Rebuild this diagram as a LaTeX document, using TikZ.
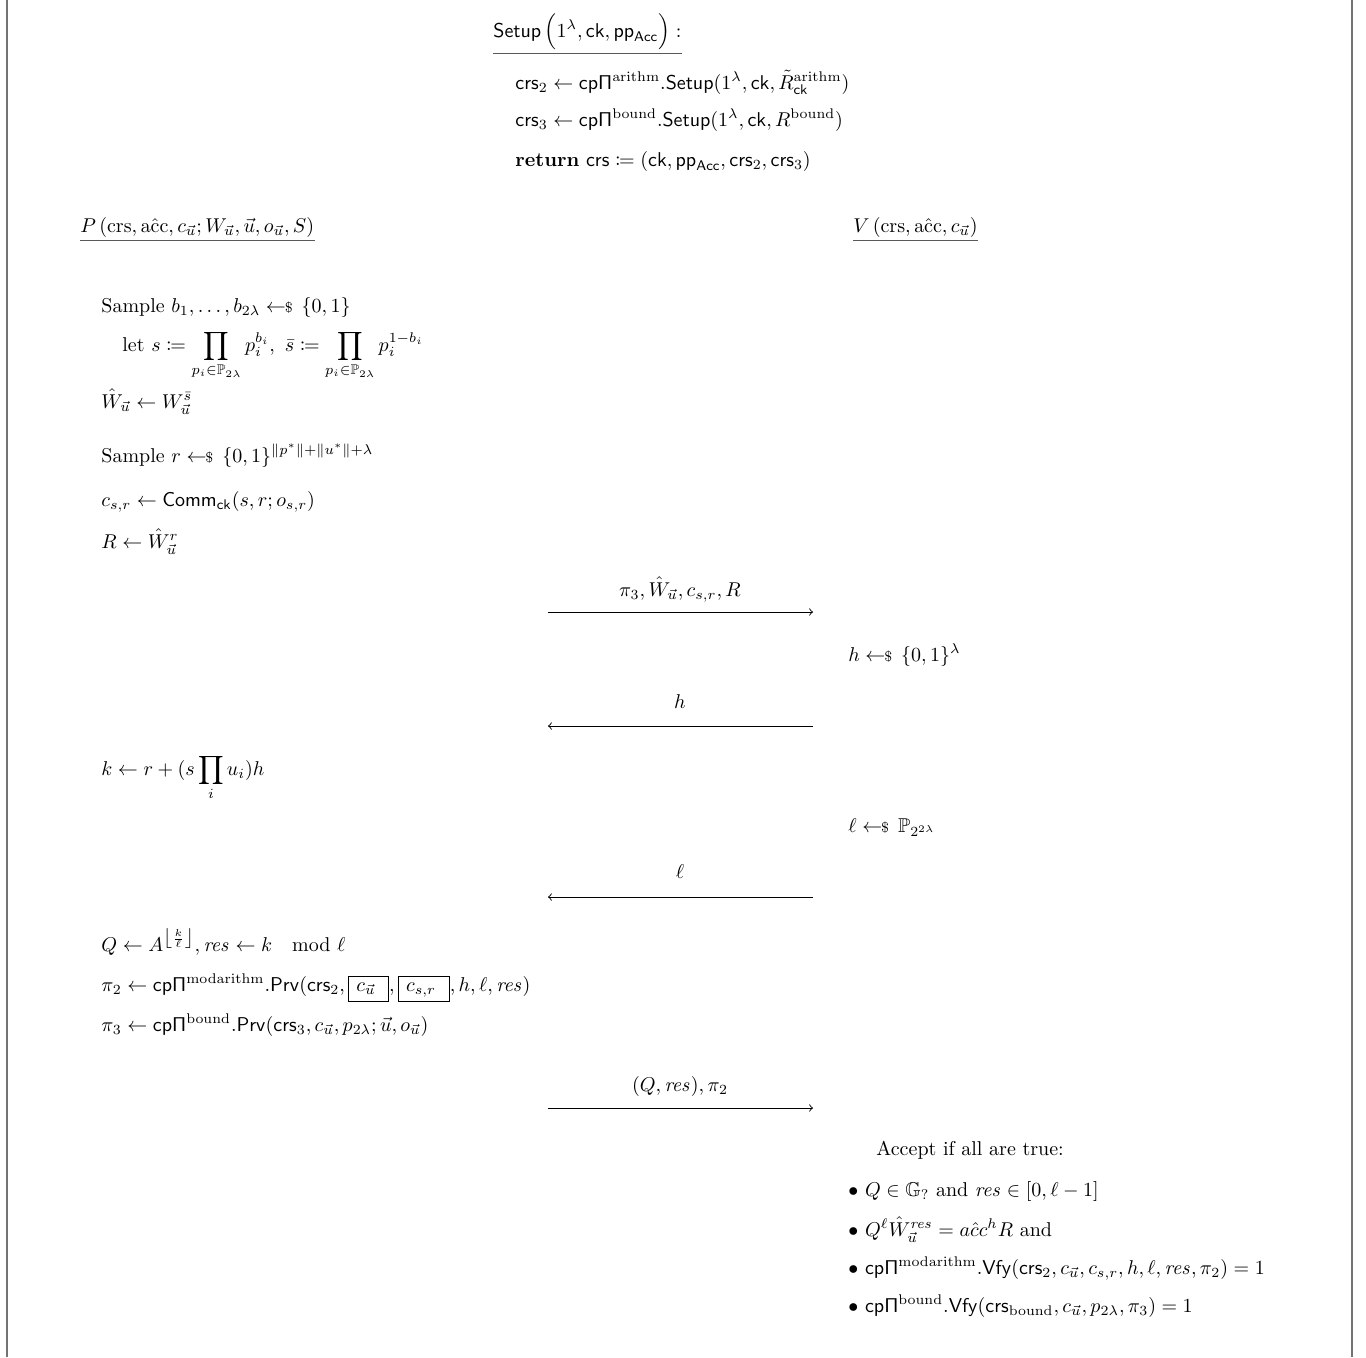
\documentclass[tikz,border=0pt]{standalone}
\usepackage{amsmath,amssymb,mathtools}
\newcommand{\smp}{\mathrel{\leftarrow\!\!\mbox{\scriptsize\$}}\,}
\newcommand{\cpP}{\mathsf{cp}\mathsf{\Pi}}
\newcommand{\bx}[1]{\fbox{\rule[-3pt]{0pt}{8pt}$\,#1\;\,$}}
\setlength{\fboxsep}{2pt}
\begin{document}
\begin{tikzpicture}[x=0.5pt,y=-0.5pt,
  txt/.style={anchor=base west, inner sep=0pt, font=\fontsize{10}{12}\selectfont},
  lbl/.style={anchor=base, inner sep=0pt, font=\fontsize{10}{12}\selectfont},
  uline/.style={draw=black!65, line width=0.6pt},
  arr/.style={line width=0.45pt, ->},
  frame/.style={draw=black!55, line width=1pt}]
\useasboundingbox (0,0) rectangle (1366,1357);
% frame
\coordinate (fl1) at (7,0); \coordinate (fl2) at (7,1357);
\coordinate (fr1) at (1352,0); \coordinate (fr2) at (1352,1357);
\draw[frame] (fl1) -- (fl2);
\draw[frame] (fr1) -- (fr2);
% setup
\node[txt] (setup) at (493,37) {$\mathsf{Setup}\,\Bigl(1^{\lambda},\mathsf{ck},\mathsf{pp}_{\mathsf{Acc}}\Bigr):$};
\draw[uline] ([yshift=-1.5pt]setup.south west) -- ([yshift=-1.5pt]setup.south east);
\node[txt] (s1) at (515,89) {$\mathsf{crs}_2\leftarrow\cpP^{\mathrm{arithm}}.\mathsf{Setup}(1^{\lambda},\mathsf{ck},\tilde{R}^{\mathrm{arithm}}_{\mathsf{ck}})$};
\node[txt] (s2) at (515,126) {$\mathsf{crs}_3\leftarrow\cpP^{\mathrm{bound}}.\mathsf{Setup}(1^{\lambda},\mathsf{ck},R^{\mathrm{bound}})$};
\node[txt] (s3) at (515,166) {$\textbf{return}\ \mathsf{crs}\coloneqq(\mathsf{ck},\mathsf{pp}_{\mathsf{Acc}},\mathsf{crs}_2,\mathsf{crs}_3)$};
% headers
\node[txt] (ph) at (80,232) {$P\,(\mathrm{crs},\mathrm{a\hat{c}c},c_{\vec{u}};W_{\vec{u}},\vec{u},o_{\vec{u}},S)$};
\draw[uline] ([yshift=-1.5pt]ph.south west) -- ([yshift=-1.5pt]ph.south east);
\node[txt] (vh) at (853,232) {$V\,(\mathrm{crs},\mathrm{a\hat{c}c},c_{\vec{u}})$};
\draw[uline] ([yshift=-1.5pt]vh.south west) -- ([yshift=-1.5pt]vh.south east);
% prover step 1
\node[txt] (p1) at (101,312) {Sample $b_1,\dots,b_{2\lambda}\smp\{0,1\}$};
\node[txt] (p2) at (122,351) {let $s\coloneqq\displaystyle\prod_{p_i\in\mathbb{P}_{2\lambda}}p_i^{b_i},\ \bar{s}\coloneqq\prod_{p_i\in\mathbb{P}_{2\lambda}}p_i^{1-b_i}$};
\node[txt] (p3) at (101,408) {$\hat{W}_{\vec{u}}\leftarrow W_{\vec{u}}^{\bar{s}}$};
\node[txt] (p4) at (101,462) {Sample $r\smp\{0,1\}^{\|p^*\|+\|u^*\|+\lambda}$};
\node[txt] (p5) at (101,506) {$c_{s,r}\leftarrow\mathsf{Comm}_{\mathsf{ck}}(s,r;o_{s,r})$};
\node[txt] (p6) at (101,548) {$R\leftarrow\hat{W}_{\vec{u}}^{r}$};
% message 1
\coordinate (m1L) at (548,612); \coordinate (m1R) at (813,612);
\draw[arr] (m1L) -- (m1R);
\node[lbl] (l1) at (680,596) {$\pi_3,\hat{W}_{\vec{u}},c_{s,r},R$};
\node[txt] (v1) at (848,661) {$h\smp\{0,1\}^{\lambda}$};
% message 2
\coordinate (m2L) at (548,726); \coordinate (m2R) at (813,726);
\draw[arr] (m2R) -- (m2L);
\node[lbl] (l2) at (680,708) {$h$};
\node[txt] (p7) at (101,775) {$k\leftarrow r+(s\displaystyle\prod_{i}u_i)h$};
\node[txt] (v2) at (848,832) {$\ell\smp\mathbb{P}_{2^{2\lambda}}$};
% message 3
\coordinate (m3L) at (548,897); \coordinate (m3R) at (813,897);
\draw[arr] (m3R) -- (m3L);
\node[lbl] (l3) at (680,878) {$\ell$};
\node[txt] (p8) at (101,951) {$Q\leftarrow A^{\left\lfloor\frac{k}{\ell}\right\rfloor},\mathit{res}\leftarrow k\quad\mathrm{mod}\ \ell$};
\node[txt] (p9) at (101,991) {$\pi_2\leftarrow\cpP^{\mathrm{modarithm}}.\mathsf{Prv}(\mathsf{crs}_2,\bx{c_{\vec{u}}},\bx{c_{s,r}},h,\ell,\mathit{res})$};
\node[txt] (p10) at (101,1031) {$\pi_3\leftarrow\cpP^{\mathrm{bound}}.\mathsf{Prv}(\mathsf{crs}_3,c_{\vec{u}},p_{2\lambda};\vec{u},o_{\vec{u}})$};
% message 4
\coordinate (m4L) at (548,1108); \coordinate (m4R) at (813,1108);
\draw[arr] (m4L) -- (m4R);
\node[lbl] (l4) at (680,1091) {$(Q,\mathit{res}),\pi_2$};
% verifier
\node[txt] (v3) at (876,1155) {Accept if all are true:};
\node[txt] (v4) at (848,1196) {$\bullet\ Q\in\mathbb{G}_{?}$ and $\mathit{res}\in[0,\ell-1]$};
\node[txt] (v5) at (848,1236) {$\bullet\ Q^{\ell}\hat{W}_{\vec{u}}^{\mathit{res}}=a\hat{c}c^{h}R$ and};
\node[txt] (v6) at (848,1274) {$\bullet\ \cpP^{\mathrm{modarithm}}.\mathsf{Vfy}(\mathsf{crs}_2,c_{\vec{u}},c_{s,r},h,\ell,\mathit{res},\pi_2)=1$};
\node[txt] (v7) at (848,1312) {$\bullet\ \cpP^{\mathrm{bound}}.\mathsf{Vfy}(\mathsf{crs}_{\mathrm{bound}},c_{\vec{u}},p_{2\lambda},\pi_3)=1$};
\end{tikzpicture}
\end{document}
